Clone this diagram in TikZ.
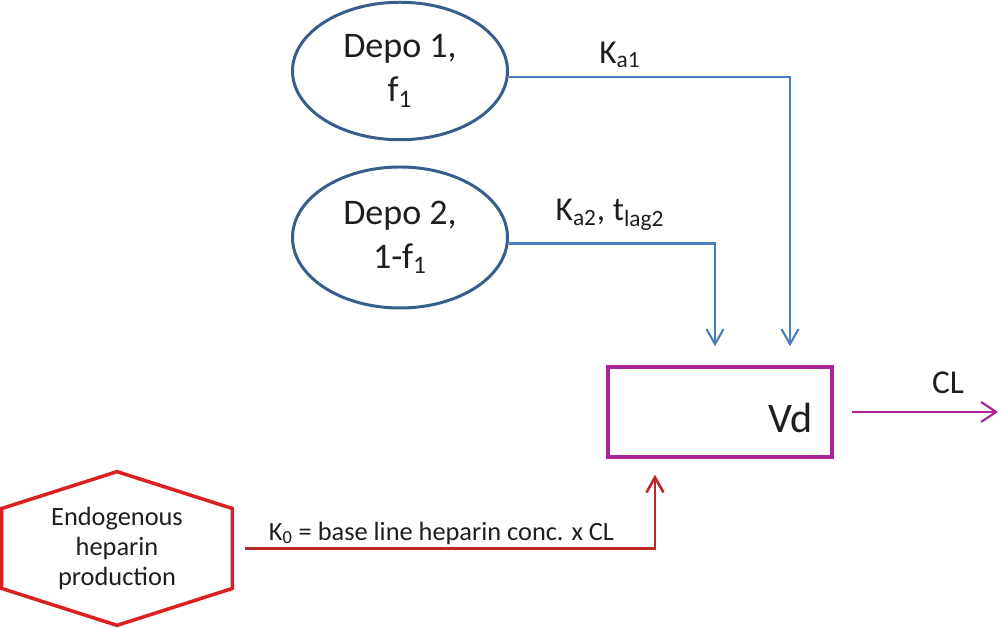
\documentclass[tikz,border=0pt]{standalone}
\usepackage{fontspec}
\setmainfont{Carlito}
\usetikzlibrary{calc}
\usetikzlibrary{shapes.geometric,arrows.meta}

\definecolor{depoblue}{RGB}{56,93,138}
\definecolor{flowblue}{RGB}{74,126,187}
\definecolor{vdpink}{RGB}{168,34,150}
\definecolor{endored}{RGB}{218,32,32}
\definecolor{koline}{RGB}{190,40,40}
\definecolor{labeltext}{RGB}{30,30,30}

\tikzset{
    depo/.style={ellipse, draw=depoblue, line width=1.7pt, fill=white,
        minimum width=4.3cm, minimum height=2.75cm, inner sep=0pt,
        align=center, text=labeltext, font=\fontsize{20.5}{25}\selectfont},
    vdbox/.style={rectangle, draw=vdpink, line width=2pt,
        minimum width=4.48cm, minimum height=1.8cm},
    endo/.style={rectangle, minimum width=4.6cm, minimum height=3.06cm,
        align=center, text=labeltext, font=\fontsize{15}{17}\selectfont},
    hexline/.style={draw=endored, line width=2pt, line join=miter},
    flow/.style={draw=flowblue, line width=1.2pt,
        -{Straight Barb[length=3mm,width=3.4mm]}, shorten >=0.38cm},
    clflow/.style={draw=vdpink, line width=1.2pt,
        -{Straight Barb[length=3mm,width=4mm]}},
    koflow/.style={draw=koline, line width=1.5pt,
        -{Straight Barb[length=3mm,width=3.4mm]}, shorten >=0.32cm},
    ratelbl/.style={text=labeltext, font=\fontsize{19}{22}\selectfont, inner sep=1pt},
    kolbl/.style={text=labeltext, font=\fontsize{15}{17}\selectfont, inner sep=1pt}
}

\begin{document}
\begin{tikzpicture}
    \useasboundingbox (0,0) rectangle (20.02,12.56);

    % depot compartments
    \node[depo] (depoA) at (8.00,11.14) {Depo 1,\\f\textsubscript{1}};
    \node[depo, minimum height=2.82cm] (depoB) at (8.00,7.81) {Depo 2,\\1-f\textsubscript{1}};

    % central compartment
    \node[vdbox] (vd) at (14.40,4.32) {};
    \node[text=labeltext, font=\fontsize{24}{28}\selectfont, anchor=base east, inner sep=0pt]
        (vdlabel) at (16.26,3.90) {Vd};

    % endogenous source, hexagon round a plain box
    \node[endo] (endo) at (2.34,1.59) {Endogenous\\heparin\\production};
    \draw[hexline] (endo.north)
        -- ($(endo.north east)!0.24!(endo.south east)$)
        -- ($(endo.south east)!0.24!(endo.north east)$)
        -- (endo.south)
        -- ($(endo.south west)!0.24!(endo.north west)$)
        -- ($(endo.north west)!0.24!(endo.south west)$)
        -- cycle;

    % absorption
    \draw[flow] ([yshift=-0.12cm]depoA.east) -| ([xshift=1.40cm]vd.north);
    \draw[flow] ([yshift=-0.12cm]depoB.east) -| ([xshift=-0.10cm]vd.north);
    \node[ratelbl] (kaA) at (12.40,11.46) {K\textsubscript{a1}};
    \node[ratelbl] (kaB) at (12.20,8.26) {K\textsubscript{a2}, t\textsubscript{lag2}};

    % elimination
    \coordinate (clout) at (19.96,4.32);
    \draw[clflow] ([xshift=0.36cm]vd.east) -- (clout);
    \node[ratelbl] (cl) at (18.96,4.90) {CL};

    % zero order input
    \draw[koflow] ([xshift=0.26cm]endo.east) -| ([xshift=-1.30cm]vd.south);
    \node[kolbl] (ko) at (8.83,1.90) {K\textsubscript{0} = base line heparin conc. x CL};
\end{tikzpicture}
\end{document}
